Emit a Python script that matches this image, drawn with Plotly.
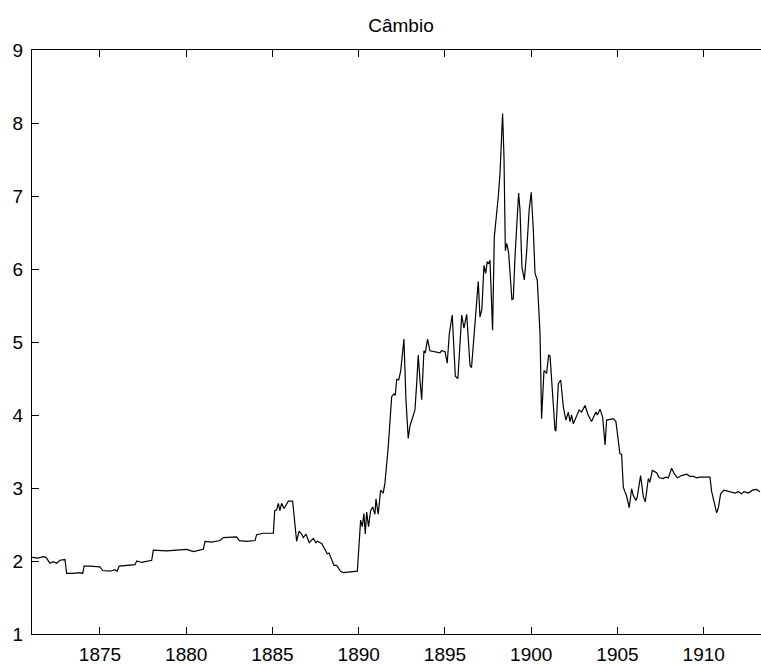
import plotly.graph_objects as go

years = [
    1871.07, 1871.41, 1871.71, 1871.87, 1872.10, 1872.29, 1872.49, 1872.68, 1872.97, 1873.07,
    1873.45, 1873.72, 1873.84, 1874.00, 1874.08, 1874.42, 1875.00, 1875.16, 1875.58, 1875.87,
    1875.99, 1876.12, 1876.74, 1877.03, 1877.13, 1877.42, 1878.00, 1878.09, 1878.87, 1879.64,
    1880.03, 1880.41, 1880.99, 1881.09, 1881.48, 1881.96, 1882.15, 1882.92, 1883.08, 1883.50,
    1883.99, 1884.08, 1884.47, 1885.05, 1885.13, 1885.24, 1885.34, 1885.43, 1885.53, 1885.67,
    1885.92, 1886.17, 1886.40, 1886.54, 1886.69, 1886.79, 1886.94, 1887.13, 1887.37, 1887.52,
    1887.60, 1887.85, 1888.04, 1888.18, 1888.28, 1888.43, 1888.57, 1888.72, 1888.95, 1889.11,
    1889.92, 1890.11, 1890.21, 1890.30, 1890.38, 1890.46, 1890.57, 1890.69, 1890.81, 1890.94,
    1891.00, 1891.13, 1891.27, 1891.42, 1891.52, 1891.71, 1891.91, 1892.04, 1892.12, 1892.20,
    1892.32, 1892.43, 1892.62, 1892.74, 1892.87, 1892.97, 1893.12, 1893.26, 1893.36, 1893.45,
    1893.55, 1893.65, 1893.78, 1893.86, 1893.99, 1894.13, 1894.71, 1894.80, 1895.00, 1895.13,
    1895.25, 1895.42, 1895.60, 1895.75, 1895.97, 1896.10, 1896.26, 1896.45, 1896.54, 1896.68,
    1896.83, 1896.93, 1897.03, 1897.14, 1897.26, 1897.36, 1897.45, 1897.53, 1897.61, 1897.76,
    1897.86, 1897.99, 1898.09, 1898.19, 1898.34, 1898.42, 1898.50, 1898.58, 1898.69, 1898.88,
    1898.96, 1899.06, 1899.15, 1899.27, 1899.35, 1899.46, 1899.60, 1899.73, 1899.88, 1900.00,
    1900.12, 1900.22, 1900.35, 1900.51, 1900.60, 1900.74, 1900.89, 1901.01, 1901.09, 1901.24,
    1901.38, 1901.43, 1901.57, 1901.71, 1901.86, 1902.01, 1902.15, 1902.25, 1902.34, 1902.44,
    1902.59, 1902.78, 1902.92, 1903.12, 1903.30, 1903.50, 1903.75, 1903.83, 1903.99, 1904.14,
    1904.28, 1904.37, 1904.57, 1904.76, 1904.91, 1905.05, 1905.14, 1905.24, 1905.34, 1905.43,
    1905.53, 1905.68, 1905.82, 1905.91, 1906.07, 1906.14, 1906.34, 1906.50, 1906.61, 1906.79,
    1906.88, 1907.02, 1907.27, 1907.42, 1907.66, 1907.79, 1907.95, 1908.14, 1908.28, 1908.47,
    1908.72, 1909.01, 1909.20, 1909.39, 1909.59, 1909.78, 1910.13, 1910.26, 1910.36, 1910.46,
    1910.59, 1910.75, 1910.85, 1910.98, 1911.17, 1911.52, 1911.81, 1912.00, 1912.20, 1912.33,
    1912.58, 1912.83, 1913.06, 1913.26,
]

cambio = [
    2.05, 2.04, 2.06, 2.05, 1.97, 1.99, 1.97, 2.01, 2.02, 1.83,
    1.83, 1.84, 1.84, 1.83, 1.93, 1.93, 1.92, 1.87, 1.86, 1.88,
    1.86, 1.93, 1.94, 1.95, 2.00, 1.98, 2.01, 2.15, 2.14, 2.15,
    2.16, 2.13, 2.16, 2.27, 2.26, 2.28, 2.32, 2.33, 2.28, 2.27,
    2.28, 2.36, 2.38, 2.38, 2.69, 2.70, 2.79, 2.69, 2.79, 2.72,
    2.82, 2.82, 2.27, 2.41, 2.37, 2.32, 2.37, 2.25, 2.31, 2.25,
    2.27, 2.24, 2.17, 2.10, 2.11, 2.03, 1.94, 1.94, 1.86, 1.84,
    1.86, 2.56, 2.47, 2.65, 2.37, 2.67, 2.47, 2.69, 2.74, 2.64,
    2.85, 2.64, 2.97, 2.93, 3.07, 3.56, 4.25, 4.29, 4.27, 4.49,
    4.48, 4.60, 5.04, 4.20, 3.68, 3.85, 3.97, 4.07, 4.43, 4.82,
    4.48, 4.21, 4.88, 4.85, 5.04, 4.88, 4.85, 4.88, 4.87, 4.71,
    5.11, 5.37, 4.53, 4.50, 5.37, 5.19, 5.38, 4.68, 4.65, 5.12,
    5.48, 5.83, 5.34, 5.45, 6.05, 5.94, 6.10, 6.07, 6.12, 5.16,
    6.44, 6.72, 6.99, 7.31, 8.13, 7.54, 6.25, 6.35, 6.22, 5.58,
    5.59, 6.17, 6.63, 7.04, 6.81, 6.03, 5.85, 6.22, 6.81, 7.05,
    6.54, 5.94, 5.85, 5.12, 3.95, 4.61, 4.57, 4.82, 4.81, 4.20,
    3.79, 3.78, 4.43, 4.48, 4.11, 3.93, 4.04, 3.91, 4.00, 3.88,
    3.97, 4.07, 4.04, 4.13, 4.00, 3.91, 4.04, 4.00, 4.08, 3.97,
    3.59, 3.93, 3.94, 3.95, 3.91, 3.65, 3.47, 3.46, 3.01, 2.95,
    2.89, 2.73, 2.99, 2.90, 2.83, 2.87, 3.17, 2.88, 2.81, 3.13,
    3.08, 3.24, 3.21, 3.14, 3.13, 3.15, 3.14, 3.27, 3.20, 3.14,
    3.17, 3.19, 3.16, 3.16, 3.14, 3.15, 3.15, 3.14, 3.15, 2.95,
    2.81, 2.66, 2.73, 2.92, 2.97, 2.95, 2.93, 2.95, 2.92, 2.95,
    2.93, 2.97, 2.98, 2.95,
]

x_ticks = [1875, 1880, 1885, 1890, 1895, 1900, 1905, 1910]
y_ticks = [1, 2, 3, 4, 5, 6, 7, 8, 9]
title_text = "Câmbio"

font_family = "Liberation Sans, Arial, sans-serif"

fig = go.Figure()
fig.add_trace(go.Scatter(
    x=years, y=cambio, mode="lines",
    line=dict(color="black", width=1.2),
    showlegend=False, hoverinfo="skip",
))

fig.update_layout(
    width=761, height=664,
    margin=dict(l=32, r=0, t=50, b=30, autoexpand=False),
    paper_bgcolor="white", plot_bgcolor="white",
    font=dict(family=font_family, size=19, color="black"),
    title=dict(text=title_text, x=401 / 761, xref="container", xanchor="center",
               y=1 - 25 / 664, yref="container", yanchor="middle",
               font=dict(family=font_family, size=19, color="black"),
               automargin=False),
)
fig.update_xaxes(
    range=[1871.06, 1913.32], tickvals=x_ticks, ticktext=[str(v) for v in x_ticks],
    showgrid=False, zeroline=False, showline=True, linecolor="black", linewidth=1,
    mirror="ticks", ticks="inside", ticklen=7, tickcolor="black", tickwidth=1,
    ticklabelstandoff=3, automargin=False,
)
fig.update_yaxes(
    range=[1, 9], tickvals=y_ticks, ticktext=[str(v) for v in y_ticks],
    showgrid=False, zeroline=False, showline=True, linecolor="black", linewidth=1,
    mirror=False, ticks="inside", ticklen=7, tickcolor="black", tickwidth=1,
    ticklabelstandoff=4, automargin=False,
)

fig.write_html(
    "out.html",
    config={"displayModeBar": False},
    post_script="document.body.style.margin='0';document.body.style.overflow='hidden';",
)
